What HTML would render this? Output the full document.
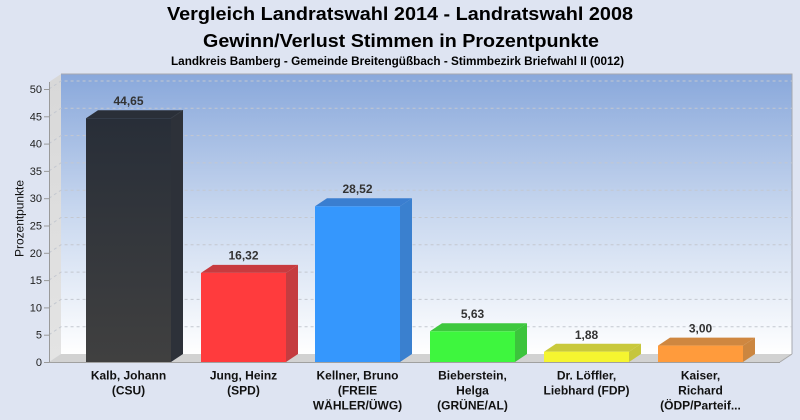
<!DOCTYPE html>
<html><head><meta charset="utf-8"><style>
html,body{margin:0;padding:0;background:#dee4f2;}
svg{display:block;}
</style></head><body>
<svg width="800" height="420" viewBox="0 0 800 420" xmlns="http://www.w3.org/2000/svg" font-family="'Liberation Sans', Arial, sans-serif">
<defs>
<linearGradient id="wall" x1="0" y1="0" x2="0" y2="1">
<stop offset="0" stop-color="#89a8db"/>
<stop offset="0.5" stop-color="#c9d8ef"/>
<stop offset="1" stop-color="#ffffff"/>
</linearGradient>
<linearGradient id="lwall" x1="0" y1="0" x2="0" y2="1">
<stop offset="0" stop-color="#d8d8d8"/>
<stop offset="1" stop-color="#e4e4e4"/>
</linearGradient>
<linearGradient id="dark" x1="0" y1="0" x2="0" y2="1">
<stop offset="0" stop-color="#282e38"/>
<stop offset="1" stop-color="#404040"/>
</linearGradient>
</defs>
<rect width="800" height="420" fill="#dee4f2"/>

<!-- Titles -->
<text x="400" y="20" text-anchor="middle" font-size="18.5" font-weight="bold" fill="#000" textLength="466" lengthAdjust="spacingAndGlyphs">Vergleich Landratswahl 2014 - Landratswahl 2008</text>
<text x="401" y="47" text-anchor="middle" font-size="18.5" font-weight="bold" fill="#000" textLength="396" lengthAdjust="spacingAndGlyphs">Gewinn/Verlust Stimmen in Prozentpunkte</text>
<text x="397.5" y="65" text-anchor="middle" font-size="11.5" font-weight="bold" fill="#000" textLength="453" lengthAdjust="spacingAndGlyphs">Landkreis Bamberg - Gemeinde Breitengüßbach - Stimmbezirk Briefwahl II (0012)</text>

<!-- back wall -->
<rect x="61" y="74" width="731" height="280" fill="url(#wall)"/>
<path d="M61 74 H792 V354" fill="none" stroke="#a6a9b0" stroke-width="1"/>
<!-- left wall -->
<polygon points="49,82 61,74 61,354 49,362" fill="url(#lwall)"/>
<!-- floor -->
<polygon points="49,362 61,354 792,354 780,362" fill="#d2d2d2"/>
<line x1="780" y1="362" x2="792" y2="354" stroke="#a8a8a8"/>
<line x1="49" y1="362.5" x2="780" y2="362.5" stroke="#a0a0a0"/>

<!-- grid lines -->
<g stroke="#c4c8d0" stroke-width="1" stroke-dasharray="3,3" fill="none">
<path d="M49 334.7 L61 326.7 H792"/>
<path d="M49 307.4 L61 299.4 H792"/>
<path d="M49 280.1 L61 272.1 H792"/>
<path d="M49 252.8 L61 244.8 H792"/>
<path d="M49 225.5 L61 217.5 H792"/>
<path d="M49 198.2 L61 190.2 H792"/>
<path d="M49 170.9 L61 162.9 H792"/>
<path d="M49 143.6 L61 135.6 H792"/>
<path d="M49 116.3 L61 108.3 H792"/>
<path d="M49 89 L61 81 H792"/>
</g>

<!-- y axis -->
<line x1="49.5" y1="82" x2="49.5" y2="362" stroke="#9a9a9a"/>
<g stroke="#9a9a9a">
<line x1="44" y1="362.5" x2="49" y2="362.5"/>
<line x1="44" y1="335.2" x2="49" y2="335.2"/>
<line x1="44" y1="307.9" x2="49" y2="307.9"/>
<line x1="44" y1="280.6" x2="49" y2="280.6"/>
<line x1="44" y1="253.3" x2="49" y2="253.3"/>
<line x1="44" y1="226" x2="49" y2="226"/>
<line x1="44" y1="198.7" x2="49" y2="198.7"/>
<line x1="44" y1="171.4" x2="49" y2="171.4"/>
<line x1="44" y1="144.1" x2="49" y2="144.1"/>
<line x1="44" y1="116.8" x2="49" y2="116.8"/>
<line x1="44" y1="89.5" x2="49" y2="89.5"/>
</g>
<g font-size="11" fill="#222" text-anchor="end">
<text x="42" y="366">0</text>
<text x="42" y="338.7">5</text>
<text x="42" y="311.4">10</text>
<text x="42" y="284.1">15</text>
<text x="42" y="256.8">20</text>
<text x="42" y="229.5">25</text>
<text x="42" y="202.2">30</text>
<text x="42" y="174.9">35</text>
<text x="42" y="147.6">40</text>
<text x="42" y="120.3">45</text>
<text x="42" y="93">50</text>
</g>
<text transform="translate(23.5,218.5) rotate(-90)" text-anchor="middle" font-size="12" fill="#111" textLength="77" lengthAdjust="spacingAndGlyphs">Prozentpunkte</text>

<!-- bars: front x, width 85, depth dx 12 dy -8 -->
<!-- Kalb 44.65 top 118.2 -->
<polygon points="86,118.2 98,110.2 183,110.2 171,118.2" fill="#2a2f38"/>
<polygon points="171,118.2 183,110.2 183,354 171,362" fill="#2d3139"/>
<rect x="86" y="118.2" width="85" height="243.8" fill="url(#dark)"/>
<line x1="171" y1="118.2" x2="183" y2="110.2" stroke="#3a3f48" stroke-width="0.8"/>

<!-- Jung 16.32 top 272.9 -->
<polygon points="201,272.9 213,264.9 298,264.9 286,272.9" fill="#c83b3f"/>
<polygon points="286,272.9 298,264.9 298,354 286,362" fill="#c53c40"/>
<rect x="201" y="272.9" width="85" height="89.1" fill="#ff3b3d"/>

<!-- Kellner 28.52 top 206.3 -->
<polygon points="315,206.3 327,198.3 412,198.3 400,206.3" fill="#3a7ed0"/>
<polygon points="400,206.3 412,198.3 412,354 400,362" fill="#3a80cf"/>
<rect x="315" y="206.3" width="85" height="155.7" fill="#3597fd"/>

<!-- Bieberstein 5.63 top 331.3 -->
<polygon points="430,331.3 442,323.3 527,323.3 515,331.3" fill="#3ec83e"/>
<polygon points="515,331.3 527,323.3 527,354 515,362" fill="#3cc43c"/>
<rect x="430" y="331.3" width="85" height="30.7" fill="#3ef63e"/>

<!-- Löffler 1.88 top 351.7 -->
<polygon points="544,351.7 556,343.7 641,343.7 629,351.7" fill="#c9c93c"/>
<polygon points="629,351.7 641,343.7 641,354 629,362" fill="#c6c63c"/>
<rect x="544" y="351.7" width="85" height="10.3" fill="#f5f530"/>

<!-- Kaiser 3.00 top 345.6 -->
<polygon points="658,345.6 670,337.6 755,337.6 743,345.6" fill="#cf8740"/>
<polygon points="743,345.6 755,337.6 755,354 743,362" fill="#cb8640"/>
<rect x="658" y="345.6" width="85" height="16.4" fill="#ff9b3c"/>

<!-- value labels -->
<g font-size="12" font-weight="bold" fill="#333" text-anchor="middle">
<text x="128.5" y="105">44,65</text>
<text x="243.5" y="259.5">16,32</text>
<text x="357.5" y="193">28,52</text>
<text x="472.5" y="318">5,63</text>
<text x="586.5" y="339">1,88</text>
<text x="700.5" y="332.5">3,00</text>
</g>

<!-- category labels -->
<g font-size="12" font-weight="bold" fill="#111" text-anchor="middle">
<text x="128.5" y="379.5">Kalb, Johann</text>
<text x="128.5" y="394.5">(CSU)</text>
<text x="243.5" y="379.5">Jung, Heinz</text>
<text x="243.5" y="394.5">(SPD)</text>
<text x="357.5" y="379.5">Kellner, Bruno</text>
<text x="357.5" y="394.5">(FREIE</text>
<text x="357.5" y="409.5">WÄHLER/ÜWG)</text>
<text x="472.5" y="379.5">Bieberstein,</text>
<text x="472.5" y="394.5">Helga</text>
<text x="472.5" y="409.5">(GRÜNE/AL)</text>
<text x="586.5" y="379.5">Dr. Löffler,</text>
<text x="586.5" y="394.5">Liebhard (FDP)</text>
<text x="700.5" y="379.5">Kaiser,</text>
<text x="700.5" y="394.5">Richard</text>
<text x="700.5" y="409.5">(ÖDP/Parteif...</text>
</g>
</svg>
</body></html>
